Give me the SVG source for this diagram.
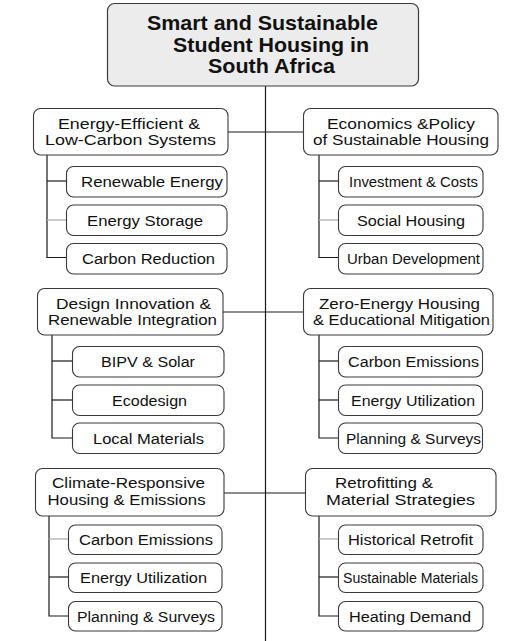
<svg xmlns="http://www.w3.org/2000/svg" width="509" height="641" viewBox="0 0 509 641">
<style>
.bg{fill:#ffffff}
.root{fill:#ececec;stroke:#3a3a3a;stroke-width:1.2}
.hd{fill:#ffffff;stroke:#3a3a3a;stroke-width:1.1}
.ch{fill:#ffffff;stroke:#3a3a3a;stroke-width:1.1}
.ln{stroke:#1a1a1a;stroke-width:1.2;fill:none}
.lg{stroke:#a8a8a8;stroke-width:1.2;fill:none}
text{font-family:"Liberation Sans",Arial,sans-serif;fill:#111;text-anchor:middle}
.t{font-size:21px;font-weight:bold}
.h{font-size:15.5px}
.c{font-size:15.5px}
</style>
<rect class="bg" x="0" y="0" width="509" height="641"/>
<g id="connectors">
<line class="ln" x1="265.5" y1="86" x2="265.5" y2="641"/>
<line class="ln" x1="228" y1="132" x2="303" y2="132"/>
<line class="ln" x1="223" y1="312" x2="303" y2="312"/>
<line class="ln" x1="224" y1="493" x2="305" y2="493"/>
<polyline class="ln" points="47,155 47,257.5 66,257.5"/>
<line class="ln" x1="47" y1="181" x2="66" y2="181"/>
<line class="lg" x1="47" y1="220" x2="66" y2="220"/>
<polyline class="ln" points="319,155 319,257.5 338,257.5"/>
<line class="ln" x1="319" y1="181" x2="338" y2="181"/>
<line class="lg" x1="319" y1="220" x2="338" y2="220"/>
<polyline class="ln" points="52,335 52,438 72,438"/>
<line class="ln" x1="52" y1="361" x2="72" y2="361"/>
<line class="ln" x1="52" y1="400" x2="72" y2="400"/>
<polyline class="ln" points="319,335 319,438 338,438"/>
<line class="ln" x1="319" y1="361" x2="338" y2="361"/>
<line class="ln" x1="319" y1="400" x2="338" y2="400"/>
<polyline class="ln" points="49,516 49,616 68,616"/>
<line class="lg" x1="49" y1="539" x2="68" y2="539"/>
<line class="ln" x1="49" y1="577" x2="68" y2="577"/>
<polyline class="ln" points="319,516 319,616 338,616"/>
<line class="lg" x1="319" y1="539" x2="338" y2="539"/>
<line class="ln" x1="319" y1="577" x2="338" y2="577"/>
</g>
<g id="root">
<rect class="root" x="107.5" y="3.5" width="311" height="82.5" rx="7"/>
<text class="t" x="262.5" y="30" textLength="231" lengthAdjust="spacingAndGlyphs">Smart and Sustainable</text>
<text class="t" x="271" y="52" textLength="196" lengthAdjust="spacingAndGlyphs">Student Housing in</text>
<text class="t" x="271.5" y="73" textLength="127" lengthAdjust="spacingAndGlyphs">South Africa</text>
</g>
<g id="g1">
<rect class="hd" x="33.5" y="108.5" width="194.5" height="46.5" rx="7"/>
<text class="h" x="129" y="129" textLength="142" lengthAdjust="spacingAndGlyphs">Energy-Efficient &amp;</text>
<text class="h" x="130.5" y="145" textLength="171" lengthAdjust="spacingAndGlyphs">Low-Carbon Systems</text>
</g>
<g id="g1a"><rect class="ch" x="66.5" y="166.5" width="160.5" height="30.5" rx="7"/><text class="c" x="152" y="187" textLength="142" lengthAdjust="spacingAndGlyphs">Renewable Energy</text></g>
<g id="g1b"><rect class="ch" x="66.5" y="205" width="160.5" height="30.5" rx="7"/><text class="c" x="145" y="225.5" textLength="116" lengthAdjust="spacingAndGlyphs">Energy Storage</text></g>
<g id="g1c"><rect class="ch" x="66.5" y="243.5" width="160.5" height="30.5" rx="7"/><text class="c" x="148.5" y="264" textLength="133" lengthAdjust="spacingAndGlyphs">Carbon Reduction</text></g>
<g id="g2">
<rect class="hd" x="303.5" y="108.5" width="194.5" height="46.5" rx="7"/>
<text class="h" x="401" y="129" textLength="148" lengthAdjust="spacingAndGlyphs">Economics &amp;Policy</text>
<text class="h" x="401" y="145" textLength="176" lengthAdjust="spacingAndGlyphs">of Sustainable Housing</text>
</g>
<g id="g2a"><rect class="ch" x="338.5" y="166.5" width="144.5" height="30.5" rx="7"/><text class="c" x="413.5" y="187" textLength="129" lengthAdjust="spacingAndGlyphs">Investment &amp; Costs</text></g>
<g id="g2b"><rect class="ch" x="338.5" y="205" width="144.5" height="30.5" rx="7"/><text class="c" x="411" y="225.5" textLength="108" lengthAdjust="spacingAndGlyphs">Social Housing</text></g>
<g id="g2c"><rect class="ch" x="338.5" y="243.5" width="144.5" height="30.5" rx="7"/><text class="c" x="413.5" y="264" textLength="133" lengthAdjust="spacingAndGlyphs">Urban Development</text></g>
<g id="g3">
<rect class="hd" x="37.5" y="288.5" width="185.5" height="46.5" rx="7"/>
<text class="h" x="133.5" y="308.5" textLength="155" lengthAdjust="spacingAndGlyphs">Design Innovation &amp;</text>
<text class="h" x="132.5" y="325" textLength="169" lengthAdjust="spacingAndGlyphs">Renewable Integration</text>
</g>
<g id="g3a"><rect class="ch" x="72.5" y="346.5" width="151.5" height="30.5" rx="7"/><text class="c" x="148" y="367" textLength="94" lengthAdjust="spacingAndGlyphs">BIPV &amp; Solar</text></g>
<g id="g3b"><rect class="ch" x="72.5" y="385" width="151.5" height="30.5" rx="7"/><text class="c" x="149.5" y="405.5" textLength="75" lengthAdjust="spacingAndGlyphs">Ecodesign</text></g>
<g id="g3c"><rect class="ch" x="72.5" y="423" width="151.5" height="30.5" rx="7"/><text class="c" x="148.5" y="443.5" textLength="111" lengthAdjust="spacingAndGlyphs">Local Materials</text></g>
<g id="g4">
<rect class="hd" x="303.5" y="288.5" width="189.5" height="46.5" rx="7"/>
<text class="h" x="399.5" y="308.5" textLength="161" lengthAdjust="spacingAndGlyphs">Zero-Energy Housing</text>
<text class="h" x="401.5" y="325" textLength="177" lengthAdjust="spacingAndGlyphs">&amp; Educational Mitigation</text>
</g>
<g id="g4a"><rect class="ch" x="338.5" y="346.5" width="144" height="30.5" rx="7"/><text class="c" x="413.5" y="367" textLength="131" lengthAdjust="spacingAndGlyphs">Carbon Emissions</text></g>
<g id="g4b"><rect class="ch" x="338.5" y="385" width="144" height="30.5" rx="7"/><text class="c" x="413" y="405.5" textLength="124" lengthAdjust="spacingAndGlyphs">Energy Utilization</text></g>
<g id="g4c"><rect class="ch" x="338.5" y="423" width="144" height="30.5" rx="7"/><text class="c" x="413.5" y="443.5" textLength="135" lengthAdjust="spacingAndGlyphs">Planning &amp; Surveys</text></g>
<g id="g5">
<rect class="hd" x="35.5" y="468.5" width="188.5" height="47.5" rx="7"/>
<text class="h" x="128.5" y="488" textLength="153" lengthAdjust="spacingAndGlyphs">Climate-Responsive</text>
<text class="h" x="126.5" y="504.5" textLength="158" lengthAdjust="spacingAndGlyphs">Housing &amp; Emissions</text>
</g>
<g id="g5a"><rect class="ch" x="68.5" y="525" width="153.5" height="29.5" rx="7"/><text class="c" x="146" y="545" textLength="134" lengthAdjust="spacingAndGlyphs">Carbon Emissions</text></g>
<g id="g5b"><rect class="ch" x="68.5" y="563" width="153.5" height="29.5" rx="7"/><text class="c" x="143.5" y="583" textLength="127" lengthAdjust="spacingAndGlyphs">Energy Utilization</text></g>
<g id="g5c"><rect class="ch" x="68.5" y="601.5" width="153.5" height="29.5" rx="7"/><text class="c" x="146" y="621.5" textLength="138" lengthAdjust="spacingAndGlyphs">Planning &amp; Surveys</text></g>
<g id="g6">
<rect class="hd" x="305.5" y="468.5" width="190.5" height="47.5" rx="7"/>
<text class="h" x="384" y="488" textLength="98" lengthAdjust="spacingAndGlyphs">Retrofitting &amp;</text>
<text class="h" x="400.5" y="504.5" textLength="149" lengthAdjust="spacingAndGlyphs">Material Strategies</text>
</g>
<g id="g6a"><rect class="ch" x="338.5" y="525" width="144.5" height="29.5" rx="7"/><text class="c" x="410.5" y="545" textLength="125" lengthAdjust="spacingAndGlyphs">Historical Retrofit</text></g>
<g id="g6b"><rect class="ch" x="338.5" y="563" width="144.5" height="29.5" rx="7"/><text class="c" x="410.5" y="583" textLength="135" lengthAdjust="spacingAndGlyphs">Sustainable Materials</text></g>
<g id="g6c"><rect class="ch" x="338.5" y="601.5" width="144.5" height="29.5" rx="7"/><text class="c" x="410" y="621.5" textLength="122" lengthAdjust="spacingAndGlyphs">Heating Demand</text></g>
</svg>
